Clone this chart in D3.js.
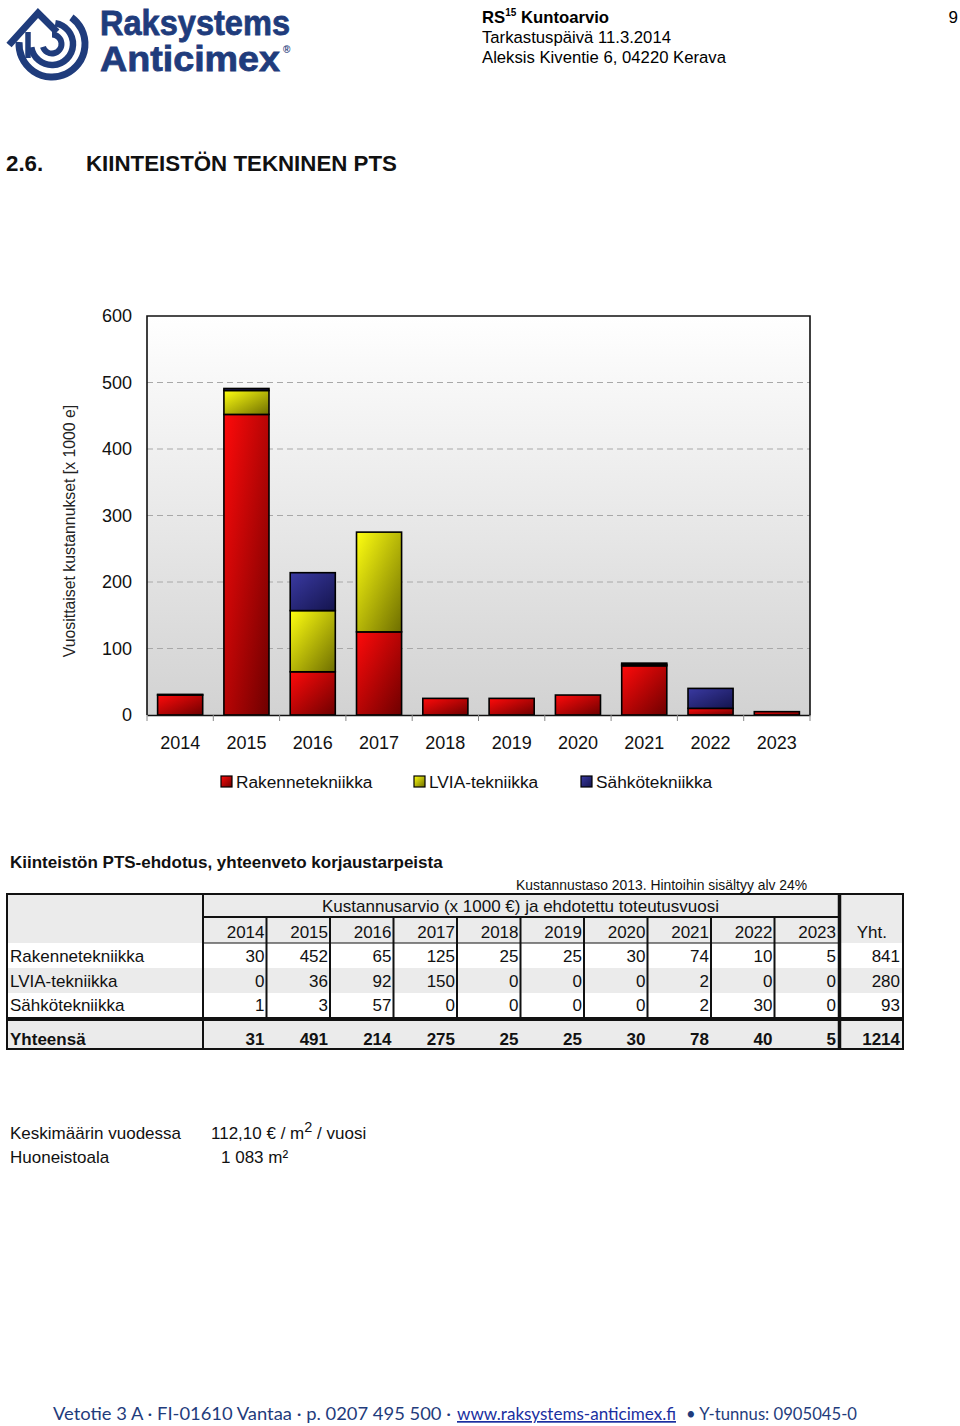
<!DOCTYPE html>
<html><head><meta charset="utf-8">
<script src="https://cdn.jsdelivr.net/npm/d3@7"></script>
<style>
html,body{margin:0;padding:0;background:#fff;}
svg{display:block;font-family:"Liberation Sans",Arial,Helvetica,sans-serif;}
</style></head>
<body>
<svg id="page" width="960" height="1426"></svg>
<script>
// ---------- data ----------
const years = ["2014","2015","2016","2017","2018","2019","2020","2021","2022","2023"];
const seriesNames = ["Rakennetekniikka","LVIA-tekniikka","Sähkötekniikka"];
const rakenne = [30,452,65,125,25,25,30,74,10,5];
const lvia    = [0,36,92,150,0,0,0,2,0,0];
const sahko   = [1,3,57,0,0,0,0,2,30,0];
const yTicks  = [0,100,200,300,400,500,600];
const totalLabel = "Yhteensä";
const yhtLabel = "Yht.";

const svg = d3.select("#page");
const defs = svg.append("defs");
const blue = "#1f3c7c";

// ---------- header / logo ----------
const logo = svg.append("g").attr("fill","none").attr("stroke",blue);
const arcGen = (r,a0,a1)=>{
  const p = d3.path();
  p.arc(52,44,r,a0,a1,false);
  return p.toString();
};
logo.append("path").attr("stroke-width",7).attr("d",arcGen(33,-Math.PI*0.30,Math.PI*1.02));
logo.append("path").attr("stroke-width",6.5).attr("d",arcGen(21,-Math.PI*0.45,Math.PI*0.95));
logo.append("path").attr("stroke-width",6).attr("d",arcGen(9.5,-Math.PI*0.5,Math.PI*0.9));
logo.append("path").attr("stroke-width",7).attr("stroke-linejoin","miter")
  .attr("d","M9,45 L38,13 L57,32");
logo.append("path").attr("stroke-width",5.5).attr("d","M28,32 L28,58");

svg.append("text").attr("x",100).attr("y",35).attr("font-size",35).attr("font-weight","bold")
  .attr("fill",blue).attr("stroke",blue).attr("stroke-width",0.8)
  .attr("textLength",190).attr("lengthAdjust","spacingAndGlyphs").text("Raksystems");
svg.append("text").attr("x",100).attr("y",71).attr("font-size",35).attr("font-weight","bold")
  .attr("fill",blue).attr("stroke",blue).attr("stroke-width",0.8)
  .attr("textLength",180).attr("lengthAdjust","spacingAndGlyphs").text("Anticimex");
svg.append("text").attr("x",283).attr("y",53).attr("font-size",10).attr("font-weight","bold")
  .attr("fill",blue).text("®");

const hdr = svg.append("text").attr("x",482).attr("y",23).attr("font-size",16.7).attr("font-weight","bold").attr("fill","#000");
hdr.append("tspan").text("RS");
hdr.append("tspan").attr("font-size",10).attr("dy",-7).text("15");
hdr.append("tspan").attr("dy",7).text(" Kuntoarvio");
svg.append("text").attr("x",482).attr("y",43).attr("font-size",16.7).text("Tarkastuspäivä 11.3.2014");
svg.append("text").attr("x",482).attr("y",63).attr("font-size",16.7).text("Aleksis Kiventie 6, 04220 Kerava");
svg.append("text").attr("x",958).attr("y",23).attr("font-size",17).attr("text-anchor","end").text("9");

svg.append("text").attr("x",6).attr("y",171).attr("font-size",22.3).attr("font-weight","bold").attr("fill","#111").text("2.6.");
svg.append("text").attr("x",86).attr("y",171).attr("font-size",22.3).attr("font-weight","bold").attr("fill","#111").text("KIINTEISTÖN TEKNINEN PTS");

// ---------- chart ----------
const plot = {left:147, right:810, top:316, bottom:715};
const x = d3.scaleBand().domain(years).range([plot.left,plot.right]).paddingInner(0.32).paddingOuter(0.16);
const xEdge = d3.scaleBand().domain(years).range([plot.left,plot.right]);
const y = d3.scaleLinear().domain([0,600]).range([plot.bottom,plot.top]);

const bg = defs.append("linearGradient").attr("id","bg").attr("x1",0).attr("y1",0).attr("x2",0).attr("y2",1);
bg.append("stop").attr("offset",0).attr("stop-color","#ffffff");
bg.append("stop").attr("offset",1).attr("stop-color","#d2d2d2");

const gradColors = [["#ff0a0a","#6e0000"],["#ffff10","#6e6e00"],["#3a3aa2","#14144e"]];
gradColors.forEach((c,i)=>{
  const g = defs.append("linearGradient").attr("id","g"+i).attr("x1",0).attr("y1",0).attr("x2",1).attr("y2",1);
  g.append("stop").attr("offset",0).attr("stop-color",c[0]);
  g.append("stop").attr("offset",1).attr("stop-color",c[1]);
});

svg.append("rect").attr("x",plot.left).attr("y",plot.top).attr("width",plot.right-plot.left)
  .attr("height",plot.bottom-plot.top).attr("fill","url(#bg)");

svg.append("g").selectAll("line").data(yTicks.filter(d=>d>0 && d<600)).join("line")
  .attr("x1",plot.left).attr("x2",plot.right).attr("y1",d=>y(d)).attr("y2",d=>y(d))
  .attr("stroke","#a8a8a8").attr("stroke-width",1).attr("stroke-dasharray","6,4");

// frame
svg.append("path").attr("d",`M${plot.left},${plot.bottom} V${plot.top} H${plot.right} V${plot.bottom}`)
  .attr("fill","none").attr("stroke","#111").attr("stroke-width",1.6);

const rows = years.map((yr,i)=>({year:yr, r:rakenne[i], l:lvia[i], s:sahko[i]}));
const stack = d3.stack().keys(["r","l","s"])(rows);
const bars = svg.append("g");
stack.forEach((layer,li)=>{
  bars.append("g").selectAll("rect").data(layer.filter(d=>d[1]-d[0]>0)).join("rect")
    .attr("x",d=>x(d.data.year)).attr("width",x.bandwidth())
    .attr("y",d=>y(d[1])).attr("height",d=>Math.max(0.5,y(d[0])-y(d[1])))
    .attr("fill",`url(#g${li})`).attr("stroke","#000").attr("stroke-width",1.6);
});

// axes
const xAxis = d3.axisBottom(xEdge).tickSize(0).tickPadding(21);
const gx = svg.append("g").attr("transform",`translate(0,${plot.bottom})`).call(xAxis);
gx.select(".domain").attr("stroke","#111").attr("stroke-width",1.6);
gx.selectAll("text").attr("font-size",18).attr("font-family","Liberation Sans, Arial").attr("fill","#111");
svg.append("g").selectAll("line").data(years.concat(["end"])).join("line")
  .attr("x1",d=>d==="end"?plot.right:xEdge(d)).attr("x2",d=>d==="end"?plot.right:xEdge(d))
  .attr("y1",plot.bottom).attr("y2",plot.bottom+6).attr("stroke","#888").attr("stroke-width",1);

const yAxis = d3.axisLeft(y).tickValues(yTicks).tickSize(0).tickPadding(15);
const gy = svg.append("g").attr("transform",`translate(${plot.left},0)`).call(yAxis);
gy.select(".domain").remove();
gy.selectAll("text").attr("font-size",18).attr("font-family","Liberation Sans, Arial").attr("fill","#111");

svg.append("text").attr("transform","translate(75,531) rotate(-90)").attr("text-anchor","middle")
  .attr("font-size",15.8).attr("fill","#222").text("Vuosittaiset kustannukset [x 1000 e]");

// legend
const legX = [221,414,581];
const leg = svg.append("g").selectAll("g").data(seriesNames).join("g")
  .attr("transform",(d,i)=>`translate(${legX[i]},776)`);
leg.append("rect").attr("width",11).attr("height",11).attr("fill",(d,i)=>`url(#g${i})`)
  .attr("stroke","#000").attr("stroke-width",1.2);
leg.append("text").attr("x",15).attr("y",12).attr("font-size",17.3).attr("fill","#111").text(d=>d);

// ---------- table ----------
svg.append("text").attr("x",10).attr("y",868).attr("font-size",17).attr("font-weight","bold").attr("fill","#111")
  .text("Kiinteistön PTS-ehdotus, yhteenveto korjaustarpeista");
svg.append("text").attr("x",516).attr("y",890).attr("font-size",13.9).attr("fill","#111")
  .text("Kustannustaso 2013.  Hintoihin sisältyy alv 24%");

const T = {left:7, labelR:203, yearsR:838, yhtL:841, right:903,
           r0:894, r1:917, r2:943, r3:968, r4:993, r5:1017, r6:1021, r7:1049};
const colX = d3.scaleBand().domain(years).range([T.labelR,T.yearsR]);
const tbl = svg.append("g");
const gray = "#ebebeb";
const fs = 17;
// backgrounds
tbl.append("rect").attr("x",T.left).attr("y",T.r0).attr("width",T.right-T.left).attr("height",T.r2-T.r0).attr("fill",gray);
tbl.append("rect").attr("x",T.left).attr("y",T.r3).attr("width",T.right-T.left).attr("height",T.r4-T.r3).attr("fill",gray);
tbl.append("rect").attr("x",T.left).attr("y",T.r6).attr("width",T.right-T.left).attr("height",T.r7-T.r6).attr("fill",gray);

svg.append("text").attr("x",(T.labelR+T.yearsR)/2).attr("y",912).attr("text-anchor","middle").attr("font-size",fs)
  .attr("fill","#111").text("Kustannusarvio (x 1000 €) ja ehdotettu toteutusvuosi");

// year headers
tbl.append("g").selectAll("text").data(years).join("text")
  .attr("x",d=>colX(d)+colX.bandwidth()-2).attr("y",938).attr("text-anchor","end")
  .attr("font-size",fs).attr("fill","#111").text(d=>d);
tbl.append("text").attr("x",T.right-16).attr("y",938).attr("text-anchor","end").attr("font-size",fs).attr("fill","#111").text(yhtLabel);

const dataRows = [rakenne,lvia,sahko];
const baselines = [962,987,1011];
dataRows.forEach((arr,ri)=>{
  tbl.append("text").attr("x",10).attr("y",baselines[ri]).attr("font-size",fs).attr("fill","#111").text(seriesNames[ri]);
  tbl.append("g").selectAll("text").data(arr).join("text")
    .attr("x",(d,i)=>colX(years[i])+colX.bandwidth()-2).attr("y",baselines[ri]).attr("text-anchor","end")
    .attr("font-size",fs).attr("fill","#111").text(d=>d);
  tbl.append("text").attr("x",T.right-3).attr("y",baselines[ri]).attr("text-anchor","end")
    .attr("font-size",fs).attr("fill","#111").text(d3.sum(arr));
});
const totals = years.map((yr,i)=>rakenne[i]+lvia[i]+sahko[i]);
tbl.append("text").attr("x",10).attr("y",1045).attr("font-size",fs).attr("font-weight","bold").attr("fill","#111").text(totalLabel);
tbl.append("g").selectAll("text").data(totals).join("text")
  .attr("x",(d,i)=>colX(years[i])+colX.bandwidth()-2).attr("y",1045).attr("text-anchor","end")
  .attr("font-size",fs).attr("font-weight","bold").attr("fill","#111").text(d=>d);
tbl.append("text").attr("x",T.right-3).attr("y",1045).attr("text-anchor","end")
  .attr("font-size",fs).attr("font-weight","bold").attr("fill","#111").text(d3.sum(totals));

// lines
const ln = (x1,y1,x2,y2,w)=>tbl.append("line").attr("x1",x1).attr("y1",y1).attr("x2",x2).attr("y2",y2)
  .attr("stroke","#111").attr("stroke-width",w);
tbl.append("rect").attr("x",T.left).attr("y",T.r0).attr("width",T.right-T.left).attr("height",T.r7-T.r0)
  .attr("fill","none").attr("stroke","#111").attr("stroke-width",2);
ln(T.labelR,T.r0,T.labelR,T.r7,2);
ln(T.labelR,T.r1,T.yearsR,T.r1,2);
ln(T.labelR,T.r2,T.yearsR,T.r2,1);
years.slice(0,-1).forEach(yr=>{ ln(colX(yr)+colX.bandwidth(),T.r1,colX(yr)+colX.bandwidth(),T.r5,2); });
ln(T.yearsR+1.5,T.r0,T.yearsR+1.5,T.r7,3.5);
ln(T.left,T.r5+2,T.right,T.r5+2,4);

// ---------- notes ----------
svg.append("text").attr("x",10).attr("y",1139).attr("font-size",17).attr("fill","#111").text("Keskimäärin vuodessa");
const n1 = svg.append("text").attr("x",211).attr("y",1139).attr("font-size",17).attr("fill","#111");
n1.append("tspan").text("112,10 € / m");
n1.append("tspan").attr("dy",-7).attr("font-size",14.5).text("2");
n1.append("tspan").attr("dy",7).text(" / vuosi");
svg.append("text").attr("x",10).attr("y",1163).attr("font-size",17).attr("fill","#111").text("Huoneistoala");
svg.append("text").attr("x",221).attr("y",1163).attr("font-size",17).attr("fill","#111").text("1 083  m²");

// ---------- footer ----------
const ff = "Lato, 'Open Sans', sans-serif";
svg.append("text").attr("x",53).attr("y",1420).attr("font-size",17).attr("font-family",ff).attr("fill",blue)
  .attr("textLength",398).attr("lengthAdjust","spacingAndGlyphs")
  .text("Vetotie 3 A  ·  FI-01610 Vantaa  · p. 0207 495 500 ·");
svg.append("text").attr("x",457).attr("y",1420).attr("font-size",17).attr("font-family",ff).attr("fill","#1a2fa0")
  .attr("text-decoration","underline").attr("textLength",219).attr("lengthAdjust","spacingAndGlyphs")
  .text("www.raksystems-anticimex.fi");
svg.append("text").attr("x",686).attr("y",1420).attr("font-size",17).attr("font-family",ff).attr("fill",blue)
  .attr("textLength",171).attr("lengthAdjust","spacingAndGlyphs")
  .text("• Y-tunnus: 0905045-0");
</script>
</body></html>
